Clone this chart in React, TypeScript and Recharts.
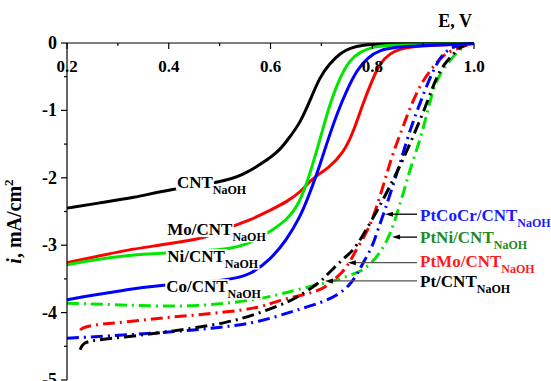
import { Line, LineChart, ReferenceDot, ReferenceLine, XAxis, YAxis } from "recharts";

const SERIF = "'Liberation Serif', 'Times New Roman', serif";

// solid curves (CNT supports)
const cntE = [0.2, 0.265, 0.33, 0.402, 0.507, 0.546, 0.585, 0.619, 0.638, 0.658, 0.678, 0.697, 0.717, 0.737, 0.756, 0.782, 0.815, 0.9, 1.0];
const cntI = [-2.45, -2.37, -2.3, -2.17, -2.06, -1.96, -1.78, -1.59, -1.39, -1.19, -0.85, -0.5, -0.3, -0.15, -0.074, -0.03, -0.015, -0.01, -0.007];

const moE = [0.2, 0.251, 0.318, 0.383, 0.448, 0.475, 0.52, 0.56, 0.599, 0.632, 0.664, 0.678, 0.717, 0.743, 0.762, 0.782, 0.8, 0.815, 0.835, 0.855, 0.874, 0.914, 1.0];
const moI = [-3.26, -3.18, -3.07, -3.0, -2.92, -2.88, -2.73, -2.63, -2.48, -2.36, -2.18, -2.03, -1.84, -1.63, -1.34, -0.89, -0.55, -0.3, -0.15, -0.09, -0.06, -0.03, -0.01];

const niE = [0.2, 0.251, 0.318, 0.383, 0.52, 0.56, 0.599, 0.632, 0.658, 0.678, 0.697, 0.717, 0.737, 0.756, 0.776, 0.801, 0.835, 1.0];
const niI = [-3.29, -3.22, -3.15, -3.12, -3.07, -2.97, -2.8, -2.63, -2.37, -1.93, -1.44, -0.89, -0.5, -0.25, -0.13, -0.06, -0.02, -0.007];

const coE = [0.2, 0.251, 0.318, 0.383, 0.52, 0.56, 0.599, 0.632, 0.658, 0.672, 0.692, 0.711, 0.731, 0.75, 0.77, 0.79, 0.815, 0.849, 0.88, 1.0];
const coI = [-3.81, -3.74, -3.66, -3.59, -3.52, -3.44, -3.22, -2.92, -2.58, -2.33, -1.93, -1.48, -1.04, -0.7, -0.4, -0.22, -0.1, -0.06, -0.045, -0.007];

// dash-dot curves (Pt based)
const ptE = [0.226, 0.231, 0.251, 0.318, 0.383, 0.448, 0.514, 0.566, 0.619, 0.652, 0.697, 0.707, 0.731, 0.746, 0.76, 0.78, 0.801, 0.821, 0.841, 0.86, 0.88, 0.9, 0.919, 0.933, 0.953, 0.972, 0.986];
const ptI = [-4.55, -4.45, -4.41, -4.36, -4.3, -4.23, -4.15, -4.04, -3.89, -3.78, -3.55, -3.47, -3.29, -3.18, -3.1, -2.88, -2.6, -2.33, -2.03, -1.74, -1.39, -1.04, -0.65, -0.4, -0.21, -0.06, -0.015];

const ptMoE = [0.226, 0.229, 0.251, 0.318, 0.383, 0.448, 0.514, 0.579, 0.619, 0.664, 0.701, 0.717, 0.741, 0.756, 0.766, 0.786, 0.8, 0.815, 0.829, 0.841, 0.86, 0.88, 0.9, 0.919, 0.939, 0.959, 0.992];
const ptMoI = [-4.26, -4.23, -4.18, -4.14, -4.08, -4.04, -3.99, -3.93, -3.81, -3.74, -3.66, -3.56, -3.41, -3.25, -3.1, -2.85, -2.63, -2.28, -1.93, -1.63, -1.25, -0.85, -0.55, -0.36, -0.18, -0.1, -0.015];

const ptCoCrE = [0.2, 0.251, 0.318, 0.383, 0.448, 0.514, 0.579, 0.652, 0.697, 0.733, 0.756, 0.772, 0.782, 0.8, 0.811, 0.825, 0.839, 0.855, 0.874, 0.894, 0.914, 0.933, 0.953, 0.972, 0.992];
const ptCoCrI = [-4.38, -4.36, -4.33, -4.3, -4.26, -4.21, -4.14, -3.96, -3.86, -3.74, -3.59, -3.41, -3.26, -3.03, -2.77, -2.48, -2.15, -1.78, -1.29, -0.89, -0.5, -0.21, -0.074, -0.03, -0.015];

const ptNiE = [0.2, 0.318, 0.448, 0.579, 0.652, 0.711, 0.731, 0.756, 0.776, 0.8, 0.819, 0.835, 0.851, 0.864, 0.874, 0.894, 0.908, 0.919, 0.933, 0.953, 0.972, 0.986];
const ptNiI = [-3.86, -3.89, -3.92, -3.81, -3.66, -3.55, -3.52, -3.44, -3.4, -3.26, -3.07, -2.85, -2.48, -2.15, -1.88, -1.44, -1.04, -0.7, -0.45, -0.25, -0.1, -0.03];

const xTicks = [0.2, 0.3, 0.4, 0.5, 0.6, 0.7, 0.8, 0.9, 1.0];
const yTicks = [0, -0.5, -1, -1.5, -2, -2.5, -3, -3.5, -4, -4.5, -5];

const zip = (E: number[], I: number[]) => E.map((e, k) => ({ E: e, i: I[k] }));

const solid = [
  { name: "CNT", data: zip(cntE, cntI), color: "#000000" },
  { name: "Mo/CNT", data: zip(moE, moI), color: "#ff0000" },
  { name: "Ni/CNT", data: zip(niE, niI), color: "#00e600" },
  { name: "Co/CNT", data: zip(coE, coI), color: "#0000ff" },
];
const dashed = [
  { name: "PtNi/CNT", data: zip(ptNiE, ptNiI), color: "#00e600" },
  { name: "PtMo/CNT", data: zip(ptMoE, ptMoI), color: "#ff0000" },
  { name: "PtCoCr/CNT", data: zip(ptCoCrE, ptCoCrI), color: "#0000ff" },
  { name: "Pt/CNT", data: zip(ptE, ptI), color: "#000000" },
];

// curve labels: text start (E, i baseline)
const leftLabels = [
  { text: "CNT", E: 0.416, i: -2.15, w: 36 },
  { text: "Mo/CNT", E: 0.397, i: -2.85, w: 65 },
  { text: "Ni/CNT", E: 0.397, i: -3.25, w: 59 },
  { text: "Co/CNT", E: 0.395, i: -3.7, w: 62 },
];
const rightLabels = [
  { text: "PtCoCr/CNT", E: 0.894, i: -2.64, tipE: 0.825, tipI: -2.54, color: "#1a1aff", arrow: "#000" },
  { text: "PtNi/CNT", E: 0.894, i: -2.96, tipE: 0.839, tipI: -2.88, color: "#1f8a1f", arrow: "#000" },
  { text: "PtMo/CNT", E: 0.894, i: -3.33, tipE: 0.752, tipI: -3.26, color: "#ff1a1a", arrow: "#555" },
  { text: "Pt/CNT", E: 0.894, i: -3.62, tipE: 0.707, tipI: -3.53, color: "#000", arrow: "#555" },
];
const ARROW_TAIL = 0.888;

const XTick = (props: any) => {
  const { x, y, payload } = props;
  const axisY = y - 6 - 4;
  const major = Math.round(payload.value * 10) % 2 === 0;
  return (
    <g>
      <line x1={x} x2={x} y1={axisY} y2={axisY + (major ? 6 : 3)} stroke="#000" strokeWidth={1.2} />
      {major && (
        <text x={x} y={axisY + 29} textAnchor="middle" fontFamily={SERIF} fontWeight="bold" fontSize={17} fill="#000">
          {payload.value.toFixed(1)}
        </text>
      )}
    </g>
  );
};

const YTick = (props: any) => {
  const { x, y, payload } = props;
  const axisX = x + 6 + 4;
  const major = Number.isInteger(payload.value);
  return (
    <g>
      <line x1={axisX - (major ? 6 : 3)} x2={axisX} y1={y} y2={y} stroke="#000" strokeWidth={1.2} />
      {major && (
        <text x={axisX - 10} y={y + 6} textAnchor="end" fontFamily={SERIF} fontWeight="bold" fontSize={18} fill="#000">
          {payload.value === 0 ? "0" : `-${Math.abs(payload.value)}`}
        </text>
      )}
    </g>
  );
};

const YLabel = (p: any) => {
  const vb = p.viewBox;
  const cx = vb.x - 6;
  const cy = vb.y + vb.height / 2 + 10;
  return (
    <text x={cx} y={cy} transform={`rotate(-90 ${cx} ${cy})`} textAnchor="middle" fontFamily={SERIF} fontWeight="bold" fontSize={20} fill="#000">
      <tspan fontStyle="italic">i</tspan>, mA/cm<tspan fontSize={13} dy={-8}>2</tspan>
    </text>
  );
};

const leftLabelShape = (text: string, w: number) => (p: any) => (
  <g>
    <rect x={p.cx - 1} y={p.cy - 13} width={w + 2} height={15} fill="#fff" />
    <text x={p.cx} y={p.cy} fontFamily={SERIF} fontWeight="bold" fontSize={17} fill="#000" stroke="#fff" strokeWidth={3} paintOrder="stroke">
      {text}
      <tspan fontSize={12} dy={6}>NaOH</tspan>
    </text>
  </g>
);

const rightLabelShape = (text: string, color: string) => (p: any) => (
  <text x={p.cx} y={p.cy} fontFamily={SERIF} fontWeight="bold" fontSize={17} fill={color}>
    {text}
    <tspan fontSize={12} dy={6}>NaOH</tspan>
  </text>
);

const arrowShape = (color: string) => (p: any) => {
  const { x1, y1, x2 } = p;
  return (
    <g>
      <line x1={x1 + 5} y1={y1} x2={x2} y2={y1} stroke={color} strokeWidth={1.3} />
      <polygon points={`${x1},${y1} ${x1 + 8},${y1 - 2.5} ${x1 + 8},${y1 + 2.5}`} fill="#000" />
    </g>
  );
};

const evLabel = (p: any) => (
  <text x={p.cx} y={p.cy} textAnchor="end" fontFamily={SERIF} fontWeight="bold" fontSize={18} fill="#000">
    E, V
  </text>
);

export default function App() {
  return (
    <div style={{ position: "absolute", left: 0, top: 0, background: "#fff" }}>
      <LineChart width={551} height={381} margin={{ top: 43, right: 77, bottom: 1, left: 27 }}>
        <XAxis
          type="number"
          dataKey="E"
          domain={[0.2, 1.0]}
          ticks={xTicks}
          orientation="top"
          mirror
          axisLine={{ stroke: "#000", strokeWidth: 1.2 }}
          tickLine={false}
          tick={XTick}
          tickSize={6}
          tickMargin={4}
          interval={0}
        />
        <YAxis
          type="number"
          domain={[-5, 0]}
          ticks={yTicks}
          width={40}
          axisLine={{ stroke: "#000", strokeWidth: 1.2 }}
          tickLine={false}
          tick={YTick}
          tickSize={6}
          tickMargin={4}
          interval={0}
          label={{ content: YLabel }}
        />
        {dashed.map((s) => (
          <Line
            key={s.name}
            data={s.data}
            dataKey="i"
            type="basis"
            stroke={s.color}
            strokeWidth={3}
            strokeDasharray="12 5 2 5"
            dot={false}
            isAnimationActive={false}
          />
        ))}
        {solid.map((s) => (
          <Line
            key={s.name}
            data={s.data}
            dataKey="i"
            type="basis"
            stroke={s.color}
            strokeWidth={3}
            dot={false}
            isAnimationActive={false}
          />
        ))}
        {leftLabels.map((l) => (
          <ReferenceDot key={l.text} x={l.E} y={l.i} ifOverflow="visible" shape={leftLabelShape(l.text, l.w)} />
        ))}
        {rightLabels.map((l) => (
          <ReferenceLine
            key={l.text + "-arrow"}
            segment={[{ x: l.tipE, y: l.tipI }, { x: ARROW_TAIL, y: l.tipI }]}
            ifOverflow="visible"
            shape={arrowShape(l.arrow)}
          />
        ))}
        {rightLabels.map((l) => (
          <ReferenceDot key={l.text} x={l.E} y={l.i} ifOverflow="visible" shape={rightLabelShape(l.text, l.color)} />
        ))}
        <ReferenceDot x={0.996} y={0.24} ifOverflow="visible" shape={evLabel} />
      </LineChart>
    </div>
  );
}
